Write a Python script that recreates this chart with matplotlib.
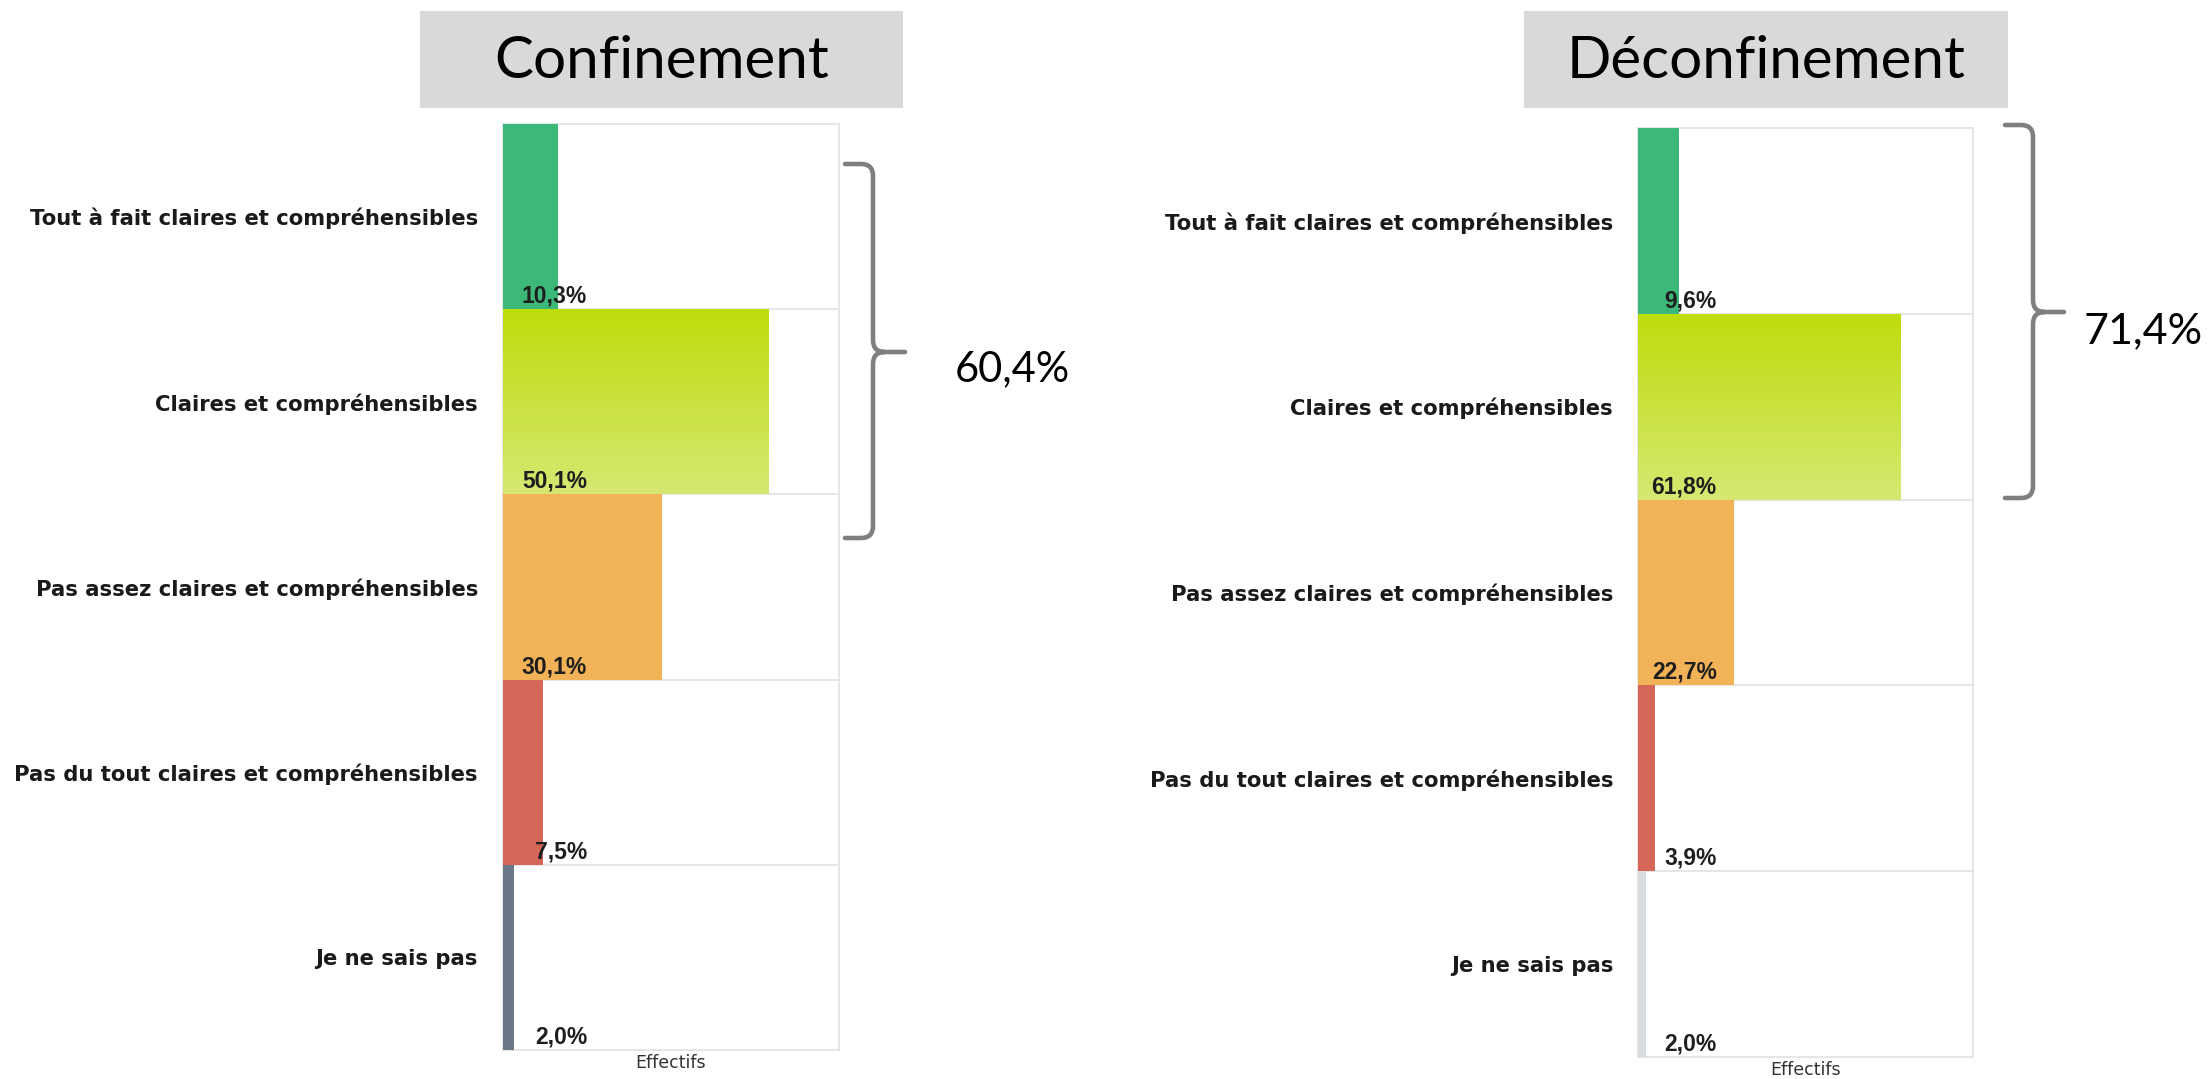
import numpy as np
import matplotlib
matplotlib.use("Agg")
import matplotlib.pyplot as plt
from matplotlib.path import Path
from matplotlib.patches import PathPatch, Rectangle
from matplotlib.colors import LinearSegmentedColormap

# données
categories = ["Tout à fait claires et compréhensibles",
              "Claires et compréhensibles",
              "Pas assez claires et compréhensibles",
              "Pas du tout claires et compréhensibles",
              "Je ne sais pas"]
confinement = [10.3, 50.1, 30.1, 7.5, 2.0]
deconfinement = [9.6, 61.8, 22.7, 3.9, 2.0]
titres = ["Confinement", "Déconfinement"]
totaux = ["60,4%", "71,4%"]

couleurs_conf = ["#3cb878", "gradient", "#f2b257", "#d6665a", "#6b7688"]
couleurs_deconf = ["#3cb878", "gradient", "#f2b257", "#d6665a", "#d9dde2"]
degrade = LinearSegmentedColormap.from_list("jaune", ["#bfdc0c", "#d6e872"])

W, H = 2210, 1079
fig = plt.figure(figsize=(W / 100, H / 100), dpi=100)


def fr(v):
    return ("%.1f%%" % v).replace(".", ",")


def panneau(rect, valeurs, couleurs, xmax, xlab):
    ax = fig.add_axes(rect)
    y = np.arange(len(categories))
    bars = ax.barh(y, valeurs, height=1.0, zorder=3, linewidth=0)
    for b, c, v, i in zip(bars, couleurs, valeurs, y):
        if c == "gradient":
            b.set_facecolor("none")
            im = ax.imshow(np.linspace(0, 1, 256).reshape(-1, 1), cmap=degrade,
                           extent=(0, v, i + 0.5, i - 0.5), aspect="auto", zorder=3)
            im.set_clip_path(b)
        else:
            b.set_facecolor(c)
        ax.text(xlab, i + 0.5 - 0.035, fr(v), transform=ax.get_yaxis_transform(),
                ha="right", va="baseline", fontsize=16.5, fontweight="bold",
                family="Liberation Sans", color="#1e1e1e", zorder=5)
    for k in range(len(categories) - 1):
        ax.axhline(k + 0.5, color="#e2e2e2", lw=1.2, zorder=1)
    ax.set_xlim(0, xmax)
    ax.set_ylim(len(categories) - 0.5, -0.5)
    ax.set_yticks(y)
    ax.set_yticklabels(categories, fontsize=15.2, fontweight="bold", color="#1a1a1a")
    ax.tick_params(axis="y", length=0, pad=18)
    ax.set_xticks([])
    ax.set_xlabel("Effectifs", fontsize=12.5, color="#333333", labelpad=3)
    for s in ax.spines.values():
        s.set_color("#e2e2e2")
        s.set_linewidth(1.2)
    return ax


panneau([503 / W, 1 - 1050 / H, 336 / W, 926 / H], confinement, couleurs_conf, 63.5, 0.25)
panneau([1638 / W, 1 - 1057 / H, 335 / W, 929 / H], deconfinement, couleurs_deconf, 79, 0.235)

# calque en pixels pour titres et accolades
over = fig.add_axes([0, 0, 1, 1])
over.set_xlim(0, W)
over.set_ylim(H, 0)
over.axis("off")
over.patch.set_visible(False)

for (x0, w), t in zip([(420, 483), (1524, 484)], titres):
    over.add_patch(Rectangle((x0, 11), w, 97, color="#d9d9d9", lw=0))
    over.text(x0 + w / 2, 61, t, ha="center", va="center", fontsize=42,
              family="Lato", color="black")


def accolade(x0, xv, xt, yt, ym, yb, r=12):
    verts = [(x0, yt), (xv - r, yt), (xv, yt), (xv, yt + r), (xv, ym - r),
             (xv, ym), (xv + r, ym), (xt, ym),
             (xv + r, ym), (xv, ym), (xv, ym + r), (xv, yb - r),
             (xv, yb), (xv - r, yb), (x0, yb)]
    codes = [Path.MOVETO, Path.LINETO, Path.CURVE3, Path.CURVE3, Path.LINETO,
             Path.CURVE3, Path.CURVE3, Path.LINETO,
             Path.MOVETO, Path.CURVE3, Path.CURVE3, Path.LINETO,
             Path.CURVE3, Path.CURVE3, Path.LINETO]
    over.add_patch(PathPatch(Path(verts, codes), facecolor="none",
                             edgecolor="#7f7f7f", lw=3.3, capstyle="round"))


accolade(845, 873, 905, 164, 352, 538)
accolade(2005, 2033, 2064, 125, 312, 498)
over.text(1012, 369, totaux[0], ha="center", va="center", fontsize=30, family="Lato")
over.text(2143, 331, totaux[1], ha="center", va="center", fontsize=31, family="Lato")

fig.savefig("out.png", dpi=100)
